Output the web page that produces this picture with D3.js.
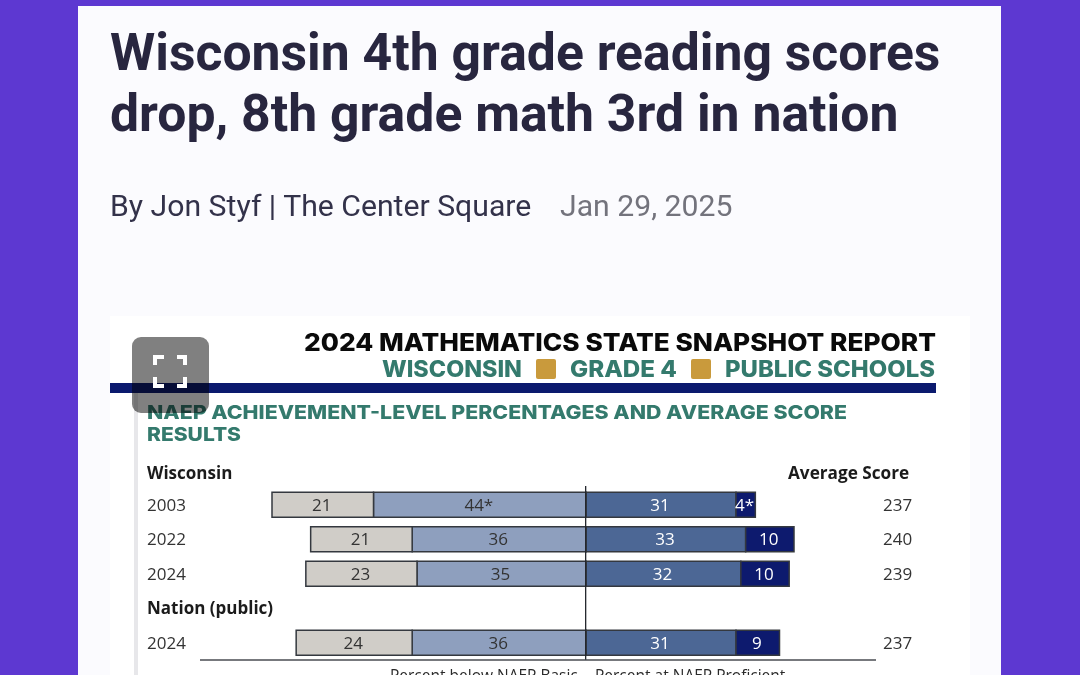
<!DOCTYPE html>
<html>
<head>
<meta charset="utf-8">
<script src="https://cdn.jsdelivr.net/npm/d3@7"></script>
<style>
  html, body { margin: 0; padding: 0; background: #5d38d1; overflow: hidden; }
  svg { display: block; }
</style>
</head>
<body>
<div id="chart"></div>
<script>
// values
var rows = ["Wisconsin", "2003", "2022", "2024", "Nation (public)", "2024 "];
var years = ["2003", "2022", "2024", "2024 "];
var belowBasic = [21, 21, 23, 24];
var atBasic = [44, 36, 35, 36];
var atProficient = [31, 33, 32, 31];
var atAdvanced = [4, 10, 10, 9];
var scores = [237, 240, 239, 237];
var starred = { atBasic: [true, false, false, false], atAdvanced: [true, false, false, false] };

var keys = ["atBasic", "belowBasic", "atProficient", "atAdvanced"];
var fills = { belowBasic: "#d0cdc8", atBasic: "#8e9fbe", atProficient: "#4c6795", atAdvanced: "#0d1a6e" };
var inks = { belowBasic: "#333", atBasic: "#333", atProficient: "#fff", atAdvanced: "#fff" };

var svg = d3.select("#chart").append("svg")
  .attr("width", 1080)
  .attr("height", 675);

// page card
svg.append("rect").attr("x", 78).attr("y", 6).attr("width", 923).attr("height", 680).attr("fill", "#fbfbfe");
svg.append("rect").attr("x", 110).attr("y", 316).attr("width", 860).attr("height", 370).attr("fill", "#fff");

// headline
var headline = ["Wisconsin 4th grade reading scores", "drop, 8th grade math 3rd in nation"];
svg.selectAll(".headline").data(headline).enter().append("text")
  .attr("class", "headline")
  .attr("x", 110)
  .attr("y", function(d, i) { return 70 + i * 61; })
  .attr("font-family", "Roboto")
  .attr("font-weight", 700)
  .attr("font-size", 51.7)
  .attr("fill", "#28263f")
  .text(function(d) { return d; });

svg.append("text").attr("x", 110).attr("y", 216)
  .attr("font-family", "Roboto").attr("font-size", 30.2).attr("fill", "#33324a")
  .text("By Jon Styf | The Center Square");
svg.append("text").attr("x", 560).attr("y", 216)
  .attr("font-family", "Roboto").attr("font-size", 30.2).attr("fill", "#73737c")
  .text("Jan 29, 2025");

// report header
svg.append("text").attr("x", 936).attr("y", 351)
  .attr("text-anchor", "end").attr("font-family", "Inter").attr("font-weight", 800).attr("font-size", 24)
  .attr("textLength", 632).attr("lengthAdjust", "spacingAndGlyphs")
  .attr("fill", "#0a0a0a").text("2024 MATHEMATICS STATE SNAPSHOT REPORT");

var subhead = [
  { text: "WISCONSIN", x: 382, w: 140 },
  { text: "GRADE 4", x: 570, w: 107 },
  { text: "PUBLIC SCHOOLS", x: 725, w: 210 }
];
svg.selectAll(".subhead").data(subhead).enter().append("text")
  .attr("class", "subhead")
  .attr("x", function(d) { return d.x; })
  .attr("y", 377)
  .attr("font-family", "Inter").attr("font-weight", 800).attr("font-size", 22.5)
  .attr("textLength", function(d) { return d.w; }).attr("lengthAdjust", "spacingAndGlyphs")
  .attr("fill", "#347a6d")
  .text(function(d) { return d.text; });

svg.selectAll(".chip").data([536, 691]).enter().append("rect")
  .attr("class", "chip")
  .attr("x", function(d) { return d; }).attr("y", 359)
  .attr("width", 20).attr("height", 20).attr("rx", 2)
  .attr("fill", "#c99a3c");

svg.append("rect").attr("x", 110).attr("y", 383).attr("width", 826).attr("height", 10).attr("fill", "#0b1a6e");
svg.append("rect").attr("x", 134).attr("y", 393).attr("width", 4).attr("height", 290).attr("fill", "#e7e7ea");

svg.selectAll(".sectionHead").data([
  { text: "NAEP ACHIEVEMENT-LEVEL PERCENTAGES AND AVERAGE SCORE", w: 700 },
  { text: "RESULTS", w: 94 }
]).enter().append("text")
  .attr("class", "sectionHead")
  .attr("x", 147)
  .attr("y", function(d, i) { return 419 + i * 22; })
  .attr("font-family", "Inter").attr("font-weight", 800).attr("font-size", 19)
  .attr("textLength", function(d) { return d.w; }).attr("lengthAdjust", "spacingAndGlyphs")
  .attr("fill", "#347a6d")
  .text(function(d) { return d.text; });

// scales
var x = d3.scaleLinear().domain([-65, 43]).range([272, 794]);
var y = d3.scaleBand().domain(rows).range([453, 660]);

var table = years.map(function(year, i) {
  return {
    year: year,
    belowBasic: -belowBasic[i],
    atBasic: -atBasic[i],
    atProficient: atProficient[i],
    atAdvanced: atAdvanced[i]
  };
});
var stacked = d3.stack().keys(keys).offset(d3.stackOffsetDiverging)(table);

var barH = 25;
var layer = svg.selectAll(".series").data(stacked).enter().append("g").attr("class", "series");

layer.selectAll("rect")
  .data(function(s) { return s.map(function(d) { return { key: s.key, d: d }; }); })
  .enter().append("rect")
  .attr("x", function(p) { return x(p.d[0]); })
  .attr("y", function(p) { return y(p.d.data.year) + (y.bandwidth() - barH) / 2; })
  .attr("width", function(p) { return x(p.d[1]) - x(p.d[0]); })
  .attr("height", barH)
  .attr("fill", function(p) { return fills[p.key]; })
  .attr("stroke", "#34383f")
  .attr("stroke-width", 1.5);

layer.selectAll("text")
  .data(function(s) { return s.map(function(d, i) { return { key: s.key, d: d, i: i }; }); })
  .enter().append("text")
  .attr("x", function(p) { return x((p.d[0] + p.d[1]) / 2) - 1; })
  .attr("y", function(p) { return y(p.d.data.year) + y.bandwidth() / 2 + 6; })
  .attr("text-anchor", "middle")
  .attr("font-family", "Open Sans")
  .attr("font-size", 17)
  .attr("fill", function(p) { return inks[p.key]; })
  .text(function(p) {
    var star = starred[p.key] && starred[p.key][p.i] ? "*" : "";
    return Math.abs(p.d[1] - p.d[0]) + star;
  });

// row labels and scores
svg.selectAll(".rowLabel").data(rows).enter().append("text")
  .attr("class", "rowLabel")
  .attr("x", 147)
  .attr("y", function(d) {
    return y(d) + y.bandwidth() / 2 + 6 + (d === "Wisconsin" ? 3 : 0);
  })
  .attr("font-family", "Open Sans")
  .attr("font-size", 17)
  .attr("font-weight", function(d) { return years.indexOf(d) < 0 ? 700 : 400; })
  .attr("fill", function(d) { return years.indexOf(d) < 0 ? "#1b1b1b" : "#333"; })
  .text(function(d) { return d.trim(); });

svg.append("text").attr("x", 788).attr("y", 479)
  .attr("font-family", "Open Sans").attr("font-weight", 700).attr("font-size", 17.2).attr("fill", "#1b1b1b")
  .text("Average Score");

svg.selectAll(".score").data(scores).enter().append("text")
  .attr("class", "score")
  .attr("x", 883)
  .attr("y", function(d, i) { return y(years[i]) + y.bandwidth() / 2 + 6; })
  .attr("font-family", "Open Sans").attr("font-size", 17).attr("fill", "#333")
  .text(function(d) { return d; });

// zero line and baseline
svg.append("line")
  .attr("x1", x(0) - 0.5).attr("x2", x(0) - 0.5).attr("y1", 486).attr("y2", 660)
  .attr("stroke", "#23262c").attr("stroke-width", 1.3);
svg.append("line")
  .attr("x1", 200).attr("x2", 876).attr("y1", 660).attr("y2", 660)
  .attr("stroke", "#4a4d52").attr("stroke-width", 1.3);

// legend text, cut off by the window in the original
svg.append("text").attr("x", 390).attr("y", 681)
  .attr("font-family", "Open Sans").attr("font-size", 15.5).attr("fill", "#2a2a2a")
  .text("Percent below NAEP Basic");
svg.append("text").attr("x", 595).attr("y", 681)
  .attr("font-family", "Open Sans").attr("font-size", 15.5).attr("fill", "#2a2a2a")
  .text("Percent at NAEP Proficient");

// fullscreen button over the picture
svg.append("rect").attr("x", 132).attr("y", 337).attr("width", 77).attr("height", 76).attr("rx", 9)
  .attr("fill", "#808080").style("mix-blend-mode", "multiply");
var corners = [
  "M155 365V357H164", "M177 357H185V365",
  "M155 377V386H164", "M177 386H185V377"
];
svg.selectAll(".corner").data(corners).enter().append("path")
  .attr("class", "corner")
  .attr("d", function(d) { return d; })
  .attr("fill", "none").attr("stroke", "#fff").attr("stroke-width", 4);
</script>
</body>
</html>
